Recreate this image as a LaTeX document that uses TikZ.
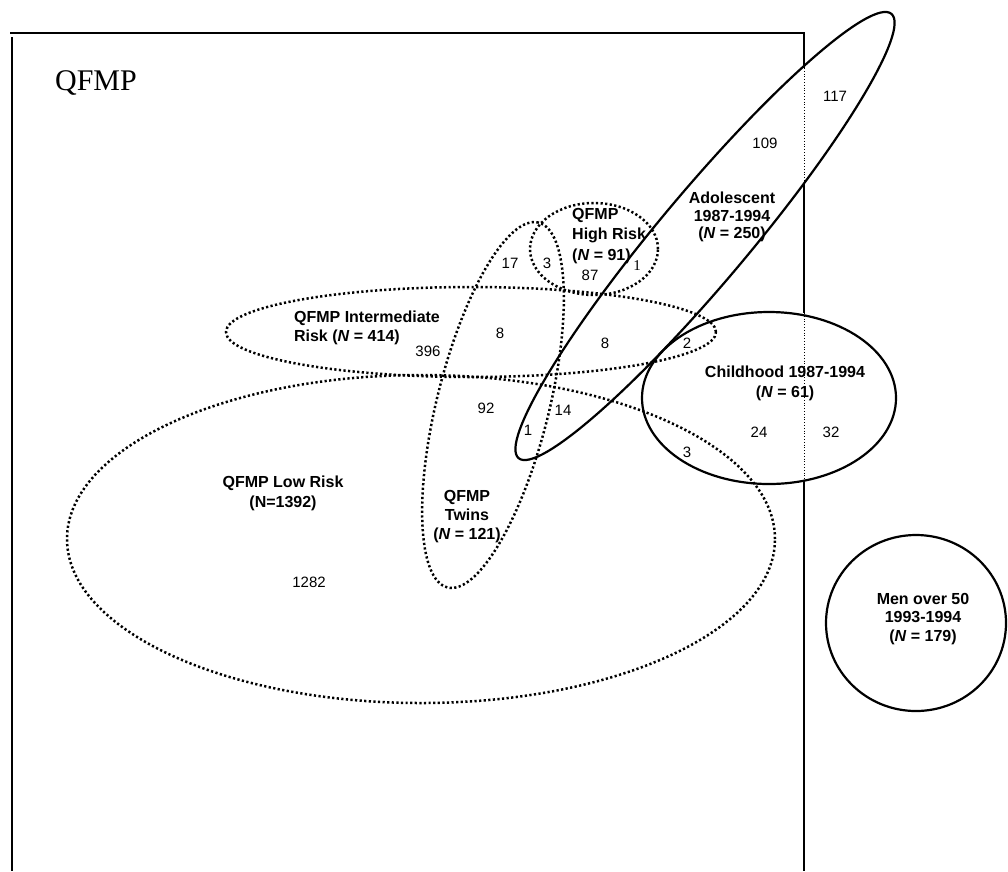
\documentclass[tikz,border=0pt]{standalone}
\usepackage{fontspec}
\setmainfont{Liberation Serif}
\setsansfont{Liberation Sans}
\usetikzlibrary{positioning, shapes.geometric}

\begin{document}
\begin{tikzpicture}[
        x=1pt, y=-1pt,
        every node/.style={font=\sffamily\fontsize{15}{18}\selectfont},
        dotset/.style={ellipse, draw, line width=2.5pt, dash pattern=on 2.2pt off 2.4pt, inner sep=0pt},
        solidset/.style={ellipse, draw, line width=2.2pt, inner sep=0pt},
        setname/.style={font=\sffamily\bfseries\fontsize{16}{#1}\selectfont, align=center, inner sep=0pt},
        setname/.default=18.5,
        count/.style={font=\sffamily\fontsize{15}{17}\selectfont, inner sep=0pt},
        frame/.style={line width=1.8pt},
        cut/.style={line width=0.9pt, dash pattern=on 1pt off 1.8pt}
    ]
        \useasboundingbox (0,0) rectangle (1008,871);
        % QFMP frame
        \coordinate (tl) at (10,33);
        \coordinate (tr) at (804,33);
        \coordinate (ra) at (804,68);
        \coordinate (rb) at (804,183);
        \coordinate (rc) at (804,313);
        \coordinate (rd) at (804,482);
        \coordinate (br) at (804,871);
        \draw[frame] (tl) -- (tr) -- (ra);
        \draw[cut] (ra) -- (rb);
        \draw[frame] (rb) -- (rc);
        \draw[cut] (rc) -- (rd);
        \draw[frame] (rd) -- (br);
        \draw[frame] (12,37) -- (12,871);
        \node[font=\rmfamily\fontsize{30}{32}\selectfont, anchor=base] (title) at (96,90) {QFMP};
        % QFMP sets (dotted)
        \node[dotset, minimum width=708, minimum height=328] (low) at (421,539) {};
        \node[dotset, minimum width=490, minimum height=90] (mid) at (471,332) {};
        \node[dotset, minimum width=128, minimum height=92] (high) at (594,249) {};
        \node[dotset, minimum width=376, minimum height=112, rotate=76] (twins) at (493,405) {};
        % Registries (solid)
        \node[solidset, minimum width=580, minimum height=90, rotate=50] (adol) at (705,236) {};
        \node[solidset, minimum width=254, minimum height=172] (child) at (769,398) {};
        \node[solidset, minimum width=180, minimum height=176] (men) at (916,623) {};
        % Set names
        \node[setname=20] (lowname) at (283,493) {QFMP Low Risk\\(N=1392)};
        \node[setname, align=left] (midname) at (367,328) {QFMP Intermediate\\Risk (\textit{N} = 414)};
        \node[setname=20.5, align=left, anchor=west] (highname) at (572,236) {QFMP\\High Risk\\(\textit{N} = 91)};
        \node[setname=19] (twinsname) at (467,517) {QFMP\\Twins\\(\textit{N} = 121)};
        \node[setname=17.5] (adolname) at (732,217) {Adolescent\\1987-1994\\(\textit{N} = 250)};
        \node[setname=20] (childname) at (785,383) {Childhood 1987-1994\\(\textit{N} = 61)};
        \node[setname] (menname) at (923,619) {Men over 50\\1993-1994\\(\textit{N} = 179)};
        % Counts
        \node[count] (n117) at (835,96) {117};
        \node[count] (n109) at (765,143) {109};
        \node[count] (n17) at (510,263) {17};
        \node[count] (n3h) at (547,263) {3};
        \node[count] (n87) at (590,275) {87};
        \node[count, font=\rmfamily\fontsize{15}{17}\selectfont] (n1h) at (637,266) {1};
        \node[count] (n8a) at (500,333) {8};
        \node[count] (n8b) at (605,343) {8};
        \node[count] (n2) at (687,343) {2};
        \node[count] (n396) at (428,351) {396};
        \node[count] (n92) at (486,408) {92};
        \node[count] (n14) at (563,410) {14};
        \node[count] (n1a) at (528,430) {1};
        \node[count] (n24) at (759,432) {24};
        \node[count] (n32) at (831,432) {32};
        \node[count] (n3c) at (687,452) {3};
        \node[count] (n1282) at (309,582) {1282};
\end{tikzpicture}
\end{document}
